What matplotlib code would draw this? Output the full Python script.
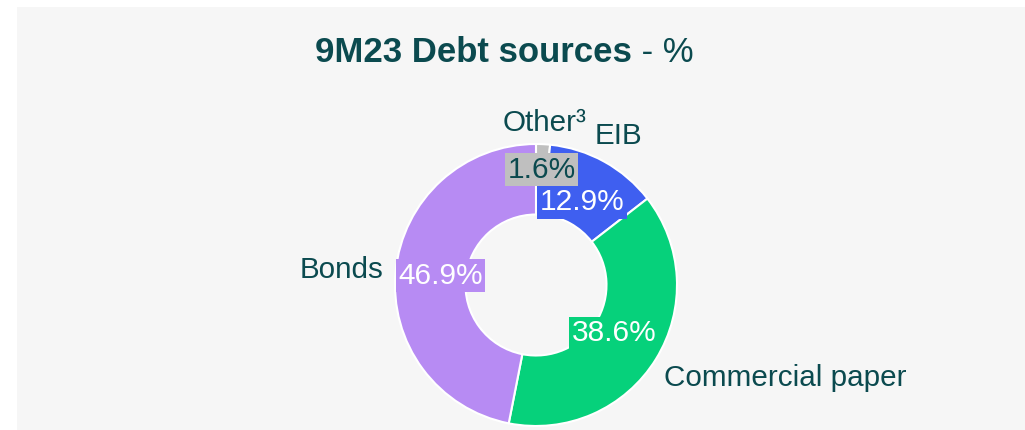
import numpy as np
import matplotlib
matplotlib.use("Agg")
import matplotlib.pyplot as plt
from matplotlib.patches import Rectangle

plt.rcParams['font.family'] = ['Liberation Sans', 'DejaVu Sans']

# ---- data ----
categories = ["Other³", "EIB", "Commercial paper", "Bonds"]
shares = [1.6, 12.9, 38.6, 46.9]
title_bold = "9M23 Debt sources"
title_rest = " - %"

# ---- style ----
colors = ["#bfbfbf", "#3f5ff0", "#06d17b", "#b78bf3"]
pct_text_colors = ["#0b4a4f", "white", "white", "white"]
pct_dist = [0.82, 0.67, 0.65, 0.68]
lab_dist = [1.15, 1.21, 1.07, 1.09]
TEXT = "#0b4a4f"
BG = "#f6f6f6"

W, H = 1025, 430
fig = plt.figure(figsize=(W / 100, H / 100), dpi=100, facecolor="white")
fig.patches.append(Rectangle((17 / W, 0), 1 - 17 / W, (H - 7) / H,
                             transform=fig.transFigure, facecolor=BG,
                             edgecolor="none", zorder=-10))

# axes: square, centered at donut center (536, 285 from top), radius 141 px
S = 400
cx, cy = 536, H - 285
R = 141
a = S / 2 / R
ax = fig.add_axes([(cx - S / 2) / W, (cy - S / 2) / H, S / W, S / H])
ax.set_zorder(1)

wedges, _ = ax.pie(shares, colors=colors, startangle=90, counterclock=False,
                   radius=1.0, wedgeprops=dict(width=0.5, edgecolor="white",
                                               linewidth=1.5))
ax.set_xlim(-a, a)
ax.set_ylim(-a, a)
ax.set_aspect('equal')
ax.axis('off')

for i, (w, cat, v) in enumerate(zip(wedges, categories, shares)):
    ang = np.deg2rad((w.theta1 + w.theta2) / 2)
    ux, uy = np.cos(ang), np.sin(ang)
    # percentage label
    ax.text(pct_dist[i] * ux, pct_dist[i] * uy, f"{v:.1f}%",
            ha="center", va="center", fontsize=21.5, color=pct_text_colors[i],
            bbox=dict(boxstyle="square,pad=0.08", facecolor=colors[i],
                      edgecolor="none"), clip_on=False, zorder=5)
    # category label
    x, y = lab_dist[i] * ux, lab_dist[i] * uy
    if abs(ux) < 0.6:
        ha = "center"
    else:
        ha = "left" if ux > 0 else "right"
    va = "top" if uy < -0.3 else "center"
    ax.text(x, y, cat, ha=ha, va=va, fontsize=21.3, color=TEXT,
            clip_on=False)

# title
t1 = fig.text(315 / W, (H - 62) / H, title_bold, ha="left", va="baseline",
              fontsize=25, fontweight="bold", color=TEXT, zorder=5)
t2 = fig.text(0, 0, title_rest, fontsize=25, color=TEXT, zorder=5)
fig.canvas.draw()
bb = t1.get_window_extent()
t2.set_position((bb.x1 / W, (H - 62) / H))
t2.set_va("baseline")

fig.savefig("out.png", dpi=100, facecolor="white")
